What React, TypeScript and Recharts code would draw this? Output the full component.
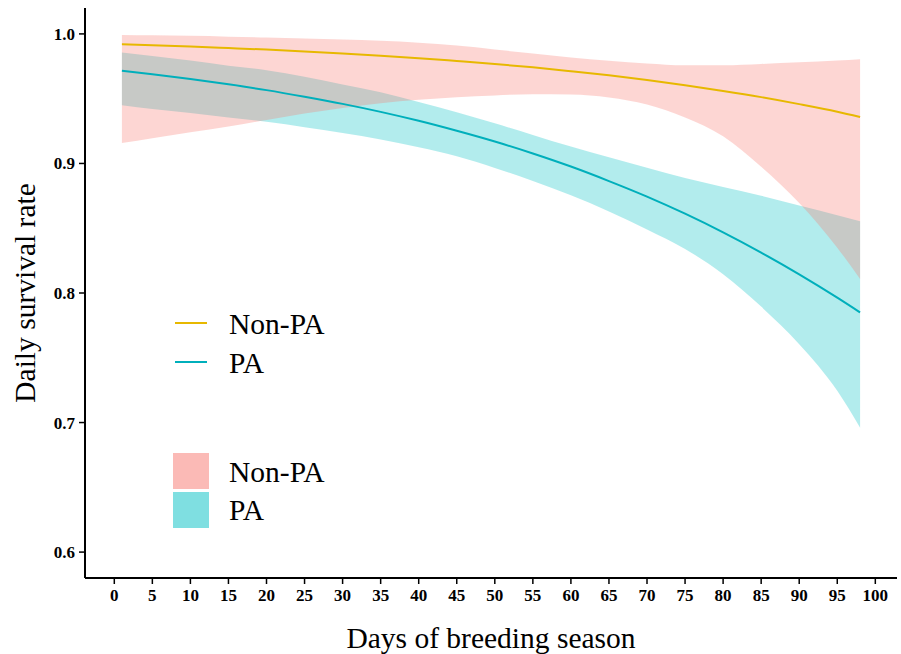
import React from "react";
import { ComposedChart, Area, Line, XAxis, YAxis } from "recharts";

// days of breeding season at which the fitted curves were read
const days = [1, 5, 10, 15, 20, 25, 30, 35, 40, 45, 50, 55, 60, 65, 70, 75, 80, 85, 90, 95, 98];

// fitted daily survival rate
const nonPaFit = [0.992, 0.9913, 0.9903, 0.9891, 0.9879, 0.9865, 0.9849, 0.9832, 0.9813, 0.9791, 0.9768, 0.9742, 0.9712, 0.968, 0.9644, 0.9604, 0.956, 0.9512, 0.9458, 0.9399, 0.9358];
const paFit = [0.9716, 0.9689, 0.9652, 0.9611, 0.9566, 0.9515, 0.946, 0.9398, 0.9329, 0.9252, 0.9169, 0.9077, 0.8976, 0.8864, 0.8744, 0.8612, 0.8468, 0.8312, 0.8144, 0.7964, 0.785];

// confidence bands
const nonPaLow = [0.9157, 0.9195, 0.924, 0.9285, 0.9335, 0.9385, 0.9428, 0.9465, 0.9492, 0.9512, 0.9525, 0.9535, 0.9533, 0.951, 0.9455, 0.9355, 0.921, 0.8975, 0.8695, 0.835, 0.8108];
const nonPaHigh = [0.9992, 0.9989, 0.9985, 0.9979, 0.9972, 0.9964, 0.9956, 0.9947, 0.9932, 0.991, 0.988, 0.9848, 0.9818, 0.9792, 0.9772, 0.9758, 0.9758, 0.9768, 0.9781, 0.9795, 0.9805];
const paLow = [0.945, 0.942, 0.939, 0.9355, 0.9322, 0.928, 0.9235, 0.9185, 0.9125, 0.9055, 0.8965, 0.8865, 0.8755, 0.863, 0.849, 0.834, 0.8145, 0.7895, 0.7605, 0.7245, 0.696];
const paHigh = [0.9856, 0.983, 0.9795, 0.9755, 0.972, 0.967, 0.961, 0.955, 0.9475, 0.9395, 0.931, 0.922, 0.913, 0.9047, 0.8966, 0.8888, 0.8818, 0.875, 0.8675, 0.86, 0.8553];

const xTicks = [0, 5, 10, 15, 20, 25, 30, 35, 40, 45, 50, 55, 60, 65, 70, 75, 80, 85, 90, 95, 100];
const yTicks = [0.6, 0.7, 0.8, 0.9, 1.0];

const rows = days.map((d, i) => ({
  day: d,
  nonPa: nonPaFit[i],
  pa: paFit[i],
  nonPaBand: [nonPaLow[i], nonPaHigh[i]],
  paBand: [paLow[i], paHigh[i]],
}));

const serif = "'Liberation Serif', 'Times New Roman', serif";
const tickStyle = { fontFamily: serif, fontSize: 17, fontWeight: 700, fill: "#000" };

export default function App() {
  return (
    <div style={{ position: "absolute", left: 0, top: 0, width: 901, height: 654, background: "#fff" }}>
      <ComposedChart width={901} height={654} data={rows} margin={{ top: 8, right: 4, bottom: 46, left: 0 }}>
        <XAxis
          dataKey="day"
          type="number"
          domain={[-3.85, 102.85]}
          ticks={xTicks}
          interval={0}
          height={30}
          tickSize={6}
          tickMargin={5}
          tick={tickStyle}
          axisLine={{ stroke: "#000", strokeWidth: 2 }}
          tickLine={{ stroke: "#000", strokeWidth: 1.5 }}
        />
        <YAxis
          type="number"
          domain={[0.58, 1.02]}
          ticks={yTicks}
          interval={0}
          width={85}
          tickSize={6}
          tickMargin={4}
          tickFormatter={(v: number) => v.toFixed(1)}
          tick={tickStyle}
          axisLine={{ stroke: "#000", strokeWidth: 2 }}
          tickLine={{ stroke: "#000", strokeWidth: 1.5 }}
        />
        <Area dataKey="paBand" type="monotone" stroke="none" fill="#00BFC4" fillOpacity={0.3} isAnimationActive={false} />
        <Area dataKey="nonPaBand" type="monotone" stroke="none" fill="#F8766D" fillOpacity={0.3} isAnimationActive={false} />
        <Line dataKey="nonPa" type="monotone" stroke="#E7B800" strokeWidth={2} dot={false} isAnimationActive={false} />
        <Line dataKey="pa" type="monotone" stroke="#00AFBB" strokeWidth={2} dot={false} isAnimationActive={false} />
      </ComposedChart>

      <svg width={901} height={654} style={{ position: "absolute", left: 0, top: 0, pointerEvents: "none" }}>
        <text x={491} y={648} textAnchor="middle" fontFamily={serif} fontSize={29.5} fill="#000">
          Days of breeding season
        </text>
        <text transform="translate(35,293) rotate(-90)" textAnchor="middle" fontFamily={serif} fontSize={29.5} fill="#000">
          Daily survival rate
        </text>

        <line x1={175} x2={207} y1={323} y2={323} stroke="#E7B800" strokeWidth={2} />
        <line x1={175} x2={207} y1={362} y2={362} stroke="#00AFBB" strokeWidth={2} />
        <text x={229} y={334} fontFamily={serif} fontSize={29.5} fill="#000">Non-PA</text>
        <text x={229} y={373} fontFamily={serif} fontSize={29.5} fill="#000">PA</text>

        <rect x={173} y={453} width={36} height={36} fill="#F8766D" fillOpacity={0.5} />
        <rect x={173} y={492} width={36} height={36} fill="#00BFC4" fillOpacity={0.5} />
        <text x={229} y={482} fontFamily={serif} fontSize={29.5} fill="#000">Non-PA</text>
        <text x={229} y={520} fontFamily={serif} fontSize={29.5} fill="#000">PA</text>
      </svg>
    </div>
  );
}
